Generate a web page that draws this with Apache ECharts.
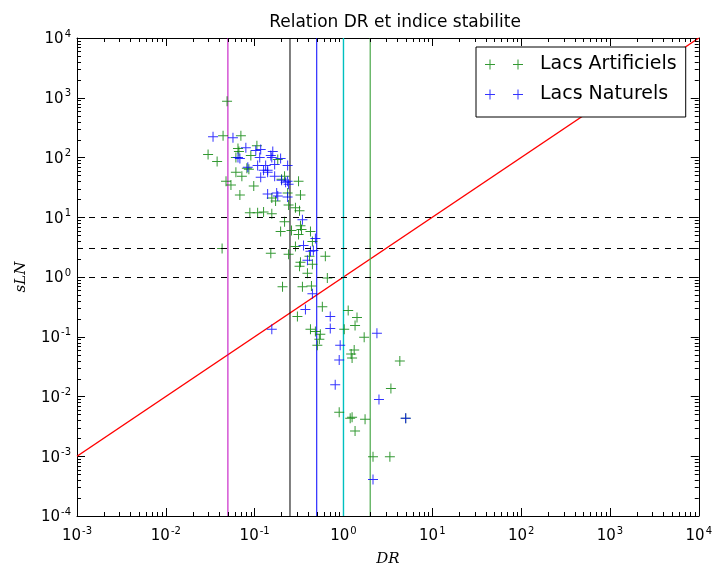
<!DOCTYPE html>
<html><head><meta charset="utf-8">
<script src="https://cdn.jsdelivr.net/npm/echarts@6/dist/echarts.min.js"></script>
<style>html,body{margin:0;padding:0;background:#fff}#c{width:715px;height:572px}</style>
</head><body><div id="c"></div>
<script>
// ---- data ----
const artX = [0.0489,0.0441,0.0700,0.0299,0.0378,0.0649,0.0665,0.106,0.0906,0.0615,0.182,0.0817,0.0861,0.0615,0.0718,0.217,0.201,0.312,0.0476,0.0541,0.0977,0.156,0.172,0.235,0.328,0.0682,0.0883,0.108,0.126,0.156,0.241,0.288,0.320,0.217,0.328,0.337,0.196,0.260,0.425,0.312,0.447,0.288,0.0430,0.152,0.241,0.414,0.625,0.328,0.320,0.447,0.393,0.658,0.206,0.345,0.436,0.578,0.303,0.425,0.483,0.549,0.535,0.508,1.02,1.13,1.42,1.35,1.71,1.32,1.22,1.25,4.31,3.42,0.895,1.19,1.25,1.75,1.35,2.15,3.33,5.02];
const artY = [875,231,231,112,85.9,141,126,158,108,100,92.6,65.8,63.3,56.5,48.5,48.5,43.3,40.1,40.1,34.5,33.2,21.0,18.7,25.4,23.5,23.5,11.9,11.9,12.3,11.4,16.1,14.4,12.8,8.43,7.24,6.21,5.76,5.98,5.76,5.14,3.94,3.25,3.01,2.49,2.40,2.22,2.22,1.77,1.52,1.64,1.16,0.962,0.684,0.684,0.710,0.319,0.218,0.133,0.123,0.110,0.091,0.0723,0.133,0.274,0.210,0.155,0.098,0.0598,0.0514,0.0442,0.0394,0.0136,0.00544,0.00433,0.00450,0.00417,0.00264,0.00098,0.00098,0.00433];
const natX = [0.0340,0.0570,0.0796,0.103,0.117,0.160,0.0649,0.0682,0.114,0.152,0.156,0.196,0.0838,0.108,0.133,0.168,0.235,0.126,0.140,0.140,0.117,0.168,0.223,0.241,0.235,0.140,0.177,0.182,0.235,0.345,0.483,0.355,0.458,0.393,0.447,0.373,0.710,0.156,0.710,0.918,2.38,0.895,0.807,2.51,5.02,2.15,0.425,0.201];
const natY = [222,214,146,131,136,126,100,96.2,100,108,100,96.2,68.4,73.8,73.8,76.6,73.8,61.0,61.0,56.5,46.7,48.5,38.6,35.8,40.1,24.4,25.4,22.6,21.8,9.10,4.41,3.38,2.79,1.91,0.524,0.285,0.218,0.133,0.138,0.0723,0.114,0.0409,0.0158,0.00891,0.00433,0.00041,2.69,41.7];
const diagX = [0.001, 10000];
const diagY = [0.001, 10000];
const vLines = [0.05, 0.25, 0.5, 1, 2];
const hLines = [10, 3, 1];
const xExps = [-3,-2,-1,0,1,2,3,4];
const yExps = [-4,-3,-2,-1,0,1,2,3,4];
const seriesNames = ['Lacs Artificiels', 'Lacs Naturels'];
const titleText = 'Relation DR et indice stabilite';
const xName = 'DR';
const yName = 'sLN';

// ---- styling ----
const vColors = ['#bf00bf', '#000000', '#0000ff', '#00c0c0', '#4aa84a'];
const vWidths = [1, 1, 1, 1.4, 1.2];
const plusPath = 'path://M0,4.5H10V5.5H0Z M4.5,0H5.5V10H4.5Z';
const legendIcon = 'path://M0,4.5H10V5.5H0Z M4.5,0H5.5V10H4.5Z M28,4.5H38V5.5H28Z M32.5,0H33.5V10H32.5Z';
const xMin = Math.pow(10, xExps[0]), xMax = Math.pow(10, xExps[xExps.length-1]);
const yMin = Math.pow(10, yExps[0]), yMax = Math.pow(10, yExps[yExps.length-1]);

function minorVals(exps){
  const out = [];
  for (let i = 0; i < exps.length - 1; i++)
    for (let m = 2; m <= 9; m++) out.push(m * Math.pow(10, exps[i]));
  return out;
}
const xMinor = minorVals(xExps), yMinor = minorVals(yExps);

const supFmt = v => '{b|10}{s|' + Math.round(Math.log10(v)) + '}';
const rich = {
  b: {fontSize: 15, fontFamily: 'DejaVu Sans', color: '#000', lineHeight: 18, verticalAlign: 'bottom'},
  s: {fontSize: 10, fontFamily: 'DejaVu Sans', color: '#000', lineHeight: 18, verticalAlign: 'top', padding: [0,0,0,1]}
};

function baseAxis(type, pos, min, max, showLabel, name) {
  const a = {
    type: 'log', logBase: 10, position: pos, min: min, max: max, interval: 1,
    axisLine: {show: true, onZero: false, lineStyle: {color: '#000', width: 1}},
    axisTick: {show: true, inside: true, length: 8, lineStyle: {color: '#000'}},
    axisLabel: showLabel ? {show: true, formatter: supFmt, rich: rich, margin: type === 'x' ? 10 : 6} : {show: false},
    splitLine: {show: false},
    minorTick: {show: false}
  };
  if (name) {
    a.name = name; a.nameLocation = 'middle';
    a.nameTextStyle = {fontFamily: 'DejaVu Serif', fontStyle: 'italic', fontSize: 15, color: '#000'};
    a.nameGap = type === 'x' ? 36 : 48;
  }
  return a;
}

function minorSeries(vals, isX) {
  return {
    type: 'custom', silent: true, clip: false, z: 6,
    data: vals.map(v => isX ? [v, 1] : [1, v]),
    renderItem: (params, api) => {
      const cs = params.coordSys;
      const L = 4;
      if (isX) {
        const p = api.coord([api.value(0), 1]);
        const x = Math.round(p[0]) + 0.5;
        return {type: 'group', children: [
          {type: 'line', shape: {x1: x, y1: cs.y + cs.height, x2: x, y2: cs.y + cs.height - L}, style: {stroke: '#000', lineWidth: 1}},
          {type: 'line', shape: {x1: x, y1: cs.y, x2: x, y2: cs.y + L}, style: {stroke: '#000', lineWidth: 1}}
        ]};
      } else {
        const p = api.coord([1, api.value(1)]);
        const y = Math.round(p[1]) + 0.5;
        return {type: 'group', children: [
          {type: 'line', shape: {x1: cs.x, y1: y, x2: cs.x + L, y2: y}, style: {stroke: '#000', lineWidth: 1}},
          {type: 'line', shape: {x1: cs.x + cs.width, y1: y, x2: cs.x + cs.width - L, y2: y}, style: {stroke: '#000', lineWidth: 1}}
        ]};
      }
    }
  };
}

// vertical reference lines: drawn as line series spanning the y axis range
const vLineSeries = vLines.map((v, i) => ({
  name: 'v' + i, type: 'line', silent: true, z: 3, showSymbol: false, symbol: 'none',
  data: [[v, yMin], [v, yMax]],
  lineStyle: {color: vColors[i], width: vWidths[i], type: 'solid'},
  itemStyle: {color: vColors[i]}
}));

const chart = echarts.init(document.getElementById('c'), null, {renderer: 'canvas'});
chart.setOption({
  animation: false,
  backgroundColor: '#fff',
  title: {
    text: titleText, left: 390, top: 9, textAlign: 'center',
    textStyle: {fontFamily: 'DejaVu Sans', fontSize: 17, fontWeight: 'normal', color: '#000'}
  },
  grid: {left: 77, right: 11, top: 38, bottom: 50, containLabel: false},
  xAxis: [baseAxis('x', 'bottom', xMin, xMax, true, xName), baseAxis('x', 'top', xMin, xMax, false)],
  yAxis: [baseAxis('y', 'left', yMin, yMax, true, yName), baseAxis('y', 'right', yMin, yMax, false)],
  legend: {
    data: seriesNames.map(n => ({name: n, icon: legendIcon})),
    orient: 'vertical', left: 476, top: 47,
    itemWidth: 38, itemHeight: 10, itemGap: 9,
    padding: [7, 9, 12, 9],
    borderColor: '#000', borderWidth: 1, backgroundColor: '#fff',
    textStyle: {fontFamily: 'DejaVu Sans', fontSize: 19, color: '#000', padding: [0, 0, 0, 12], lineHeight: 21},
    selectedMode: false
  },
  series: [
    {
      name: 'diag', type: 'line', data: diagX.map((x, i) => [x, diagY[i]]),
      showSymbol: false, symbol: 'none', silent: true, z: 3,
      lineStyle: {color: '#ff0000', width: 1.5},
      markLine: {
        silent: true, symbol: 'none', label: {show: false},
        lineStyle: {color: '#000', width: 1, type: [6, 6]},
        data: hLines.map(v => ({yAxis: v}))
      }
    }
  ].concat(vLineSeries).concat([
    {
      name: seriesNames[0], type: 'scatter', symbol: plusPath, symbolSize: 10, z: 4,
      data: artX.map((x, i) => [x, artY[i]]),
      itemStyle: {color: '#008000', opacity: 0.8}
    },
    {
      name: seriesNames[1], type: 'scatter', symbol: plusPath, symbolSize: 10, z: 4,
      data: natX.map((x, i) => [x, natY[i]]),
      itemStyle: {color: '#0000ff', opacity: 0.8}
    },
    minorSeries(xMinor, true),
    minorSeries(yMinor, false)
  ])
});
</script>
</body></html>
